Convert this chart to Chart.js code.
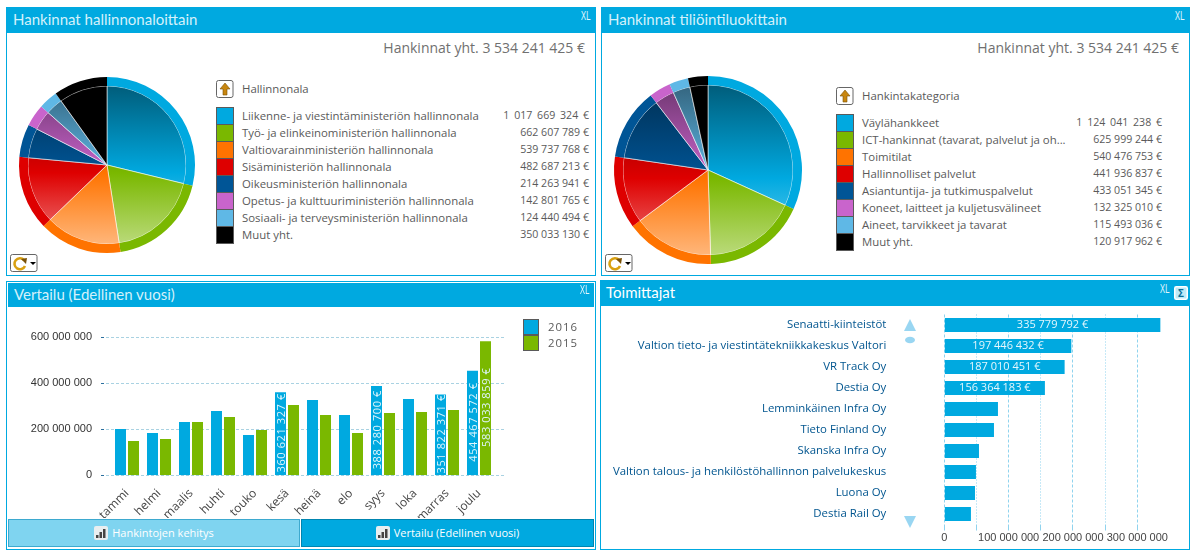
<!DOCTYPE html>
<html lang="fi">
<head>
<meta charset="utf-8">
<title>Hankinnat</title>
<script src="https://cdn.jsdelivr.net/npm/chart.js@4"></script>
<style>
  html, body { margin: 0; padding: 0; background: #fff; width: 1195px; height: 557px; overflow: hidden; }
  body { position: relative; font-family: "Open Sans", sans-serif; color: #555; }
  .panel { position: absolute; box-sizing: border-box; border: 1px solid #00a9e0; background: #fff; }
  .head { position: absolute; background: #00a9e0; color: #d4f1fb; font-family: Lato, sans-serif; font-size: 15px; line-height: 25px; padding-left: 6px; box-sizing: border-box; white-space: nowrap; }
  .xl { position: absolute; color: #e4f7fd; font-size: 12px; line-height: 12px; transform: scaleX(.72); transform-origin: left top; }
  .abs { position: absolute; white-space: nowrap; }
  .total { font-size: 14px; color: #707070; text-align: right; line-height: 18px; }
  .swatch { position: absolute; box-sizing: border-box; width: 18px; height: 18px; border: 1px solid #5a5a5a; }
  .leg { font-size: 11.4px; line-height: 17px; color: #5a5a5a; }
  .val { font-size: 10.6px; }
  .tab { position: absolute; box-sizing: border-box; top: 519px; height: 28px; border: 1px solid; color: #fff; font-size: 11px; line-height: 26px; text-align: center; }
  .tab svg { vertical-align: -3px; margin-right: 4px; }
  canvas { position: absolute; }
</style>
</head>
<body>
<script>
// ------------------------------------------------------------
// DATA
// ------------------------------------------------------------
const TOTAL_LABEL = "Hankinnat yht. 3 534 241 425 €";

const adminLabels = [
  "Liikenne- ja viestintäministeriön hallinnonala",
  "Työ- ja elinkeinoministeriön hallinnonala",
  "Valtiovarainministeriön hallinnonala",
  "Sisäministeriön hallinnonala",
  "Oikeusministeriön hallinnonala",
  "Opetus- ja kulttuuriministeriön hallinnonala",
  "Sosiaali- ja terveysministeriön hallinnonala",
  "Muut yht."
];
const adminValues = [1017669324, 662607789, 539737768, 482687213, 214263941, 142801765, 124440494, 350033130];

const accountLabels = [
  "Väylähankkeet",
  "ICT-hankinnat (tavarat, palvelut ja oh...",
  "Toimitilat",
  "Hallinnolliset palvelut",
  "Asiantuntija- ja tutkimuspalvelut",
  "Koneet, laitteet ja kuljetusvälineet",
  "Aineet, tarvikkeet ja tavarat",
  "Muut yht."
];
const accountValues = [1124041238, 625999244, 540476753, 441936837, 433051345, 132325010, 115493036, 120917962];

const months = ["tammi", "helmi", "maalis", "huhti", "touko", "kesä", "heinä", "elo", "syys", "loka", "marras", "joulu"];
const values2016 = [201000000, 184000000, 232000000, 280000000, 175000000, 360621327, 327000000, 262000000, 388280700, 332000000, 351822371, 454467572];
const values2015 = [149000000, 158000000, 232000000, 254000000, 197000000, 306000000, 262000000, 184000000, 271000000, 275000000, 284000000, 583033859];

const suppliers = [
  "Senaatti-kiinteistöt",
  "Valtion tieto- ja viestintätekniikkakeskus Valtori",
  "VR Track Oy",
  "Destia Oy",
  "Lemminkäinen Infra Oy",
  "Tieto Finland Oy",
  "Skanska Infra Oy",
  "Valtion talous- ja henkilöstöhallinnon palvelukeskus",
  "Luona Oy",
  "Destia Rail Oy"
];
const supplierValues = [335779792, 197446432, 187010451, 156364183, 83400000, 77200000, 53900000, 49200000, 47700000, 41400000];

const sliceColors = ["#00a9e0", "#7ab800", "#ff7300", "#de0000", "#005596", "#c964cc", "#5fb8e6", "#000000"];
const BLUE = "#00a9e0";
const GREEN = "#7ab800";

// ------------------------------------------------------------
// HELPERS
// ------------------------------------------------------------
Chart.defaults.font.family = '"Open Sans", sans-serif';
Chart.defaults.animation = false;

function spaced(v) {
  return String(v).replace(/\B(?=(\d{3})+(?!\d))/g, " ");
}

function mix(hex, target, amount) {
  const rgb = [1, 3, 5].map(i => parseInt(hex.substr(i, 2), 16));
  return "rgb(" + rgb.map(c => Math.round(c + (target - c) * amount)).join(",") + ")";
}

function addEl(cls, left, top, width, height, html) {
  const el = document.createElement("div");
  el.className = cls;
  el.style.left = left + "px";
  el.style.top = top + "px";
  if (width != null) el.style.width = width + "px";
  if (height != null) el.style.height = height + "px";
  if (html != null) el.innerHTML = html;
  document.body.appendChild(el);
  return el;
}

function addCanvas(left, top, width, height) {
  const c = document.createElement("canvas");
  c.style.left = left + "px";
  c.style.top = top + "px";
  c.style.width = width + "px";
  c.style.height = height + "px";
  c.width = width;
  c.height = height;
  document.body.appendChild(c);
  return c;
}

const UP_ICON =
  '<svg width="18" height="18" viewBox="0 0 18 18"><rect x=".5" y=".5" width="16.5" height="17" rx="2" fill="#fff" stroke="#666"/>' +
  '<path d="M9 3 L14 9 H11 V15 H7 V9 H4 Z" fill="#c8860f" stroke="#7a5208" stroke-width=".6"/></svg>';
const RELOAD_ICON =
  '<svg width="28" height="18" viewBox="0 0 28 18"><rect x=".5" y=".5" width="26.5" height="17" rx="2" fill="#fff" stroke="#666"/>' +
  '<path d="M14 6 A5.5 5.5 0 1 0 15 12" fill="none" stroke="#d9a011" stroke-width="2.6"/>' +
  '<path d="M11 5 L17 4 L16 10 Z" fill="#7a5208"/><path d="M20 8 H26 L23 11 Z" fill="#000"/></svg>';
const BARS_ICON =
  '<svg width="14" height="14" viewBox="0 0 14 14"><rect width="14" height="14" rx="2" fill="#e8eef0"/>' +
  '<rect x="2" y="9" width="2.5" height="3" fill="#444"/><rect x="5.5" y="6" width="2.5" height="6" fill="#444"/><rect x="9" y="3" width="2.5" height="9" fill="#444"/></svg>';

// ------------------------------------------------------------
// PLUGINS
// ------------------------------------------------------------
// Vaakaviivat piirretaan akselin yli molemmin puolin
const wideGrid = {
  id: "wideGrid",
  beforeDatasetsDraw(chart, args, opts) {
    const { ctx, scales: { y } } = chart;
    y.ticks.forEach(t => {
      const py = Math.round(y.getPixelForValue(t.value)) + 0.5;
      ctx.save();
      ctx.lineWidth = 1;
      ctx.strokeStyle = "#a9d2e2";
      ctx.setLineDash([3, 2]);
      ctx.beginPath();
      ctx.moveTo(opts.left, py);
      ctx.lineTo(opts.right, py);
      ctx.stroke();
      ctx.setLineDash([]);
      ctx.strokeStyle = "#2a6f9e";
      ctx.beginPath();
      ctx.moveTo(opts.left, py);
      ctx.lineTo(opts.left + 3, py);
      ctx.stroke();
      ctx.restore();
    });
  }
};

// Arvo palkin sisaan vain jos se mahtuu
const barValues = {
  id: "barValues",
  afterDatasetsDraw(chart, args, opts) {
    const ctx = chart.ctx;
    const vertical = !chart.options.indexAxis || chart.options.indexAxis === "x";
    chart.data.datasets.forEach((ds, d) => {
      chart.getDatasetMeta(d).data.forEach((bar, i) => {
        const text = spaced(ds.data[i]) + " €";
        ctx.save();
        ctx.font = opts.font;
        ctx.letterSpacing = opts.spacing || "0px";
        ctx.fillStyle = opts.color;
        ctx.textAlign = "center";
        ctx.textBaseline = "middle";
        const w = ctx.measureText(text).width;
        const room = vertical ? Math.abs(bar.base - bar.y) : Math.abs(bar.x - bar.base);
        if (w <= room) {
          if (vertical) {
            ctx.translate(bar.x, (bar.y + bar.base) / 2 - 1);
            ctx.rotate(-Math.PI / 2);
            ctx.fillText(text, 0, 1);
          } else {
            ctx.fillText(text, (bar.x + bar.base) / 2, bar.y);
          }
        }
        ctx.restore();
      });
    });
  }
};

// ------------------------------------------------------------
// PIE PANELS
// ------------------------------------------------------------
function piePanel(p) {
  addEl("panel", p.x, 7, p.w, 269);
  const head = addEl("head", p.x, 7, p.w, 26, p.title);
  head.style.paddingLeft = "7px";
  addEl("xl", p.x + p.w - 15, 10, null, null, "XL");
  addEl("abs total", p.x + p.w - 311, 39, 300, null, TOTAL_LABEL);

  const size = p.radius * 2 + 4;
  const canvas = addCanvas(p.cx - size / 2, p.cy - size / 2, size, size);
  new Chart(canvas, {
    type: "pie",
    data: {
      labels: p.labels,
      datasets: [
        { data: p.values, backgroundColor: sliceColors, borderWidth: 0, weight: 9 },
        {
          data: p.values,
          weight: p.radius - 9,
          borderWidth: 1,
          borderColor: "rgba(255,255,255,.55)",
          backgroundColor(c) {
            const base = sliceColors[c.dataIndex];
            const r = p.radius - 9;
            const g = c.chart.ctx.createLinearGradient(0, size / 2 - r, 0, size / 2 + r);
            g.addColorStop(0, mix(base, 0, 0.45));
            g.addColorStop(0.55, base);
            g.addColorStop(1, mix(base, 255, 0.48));
            return g;
          }
        }
      ]
    },
    options: {
      responsive: false,
      radius: p.radius,
      plugins: { legend: { display: false }, tooltip: { enabled: false } }
    }
  });

  addEl("abs", p.lx, p.ly - 27, 18, 18, UP_ICON);
  addEl("abs leg", p.lx + 26, p.ly - 27, null, null, p.heading);
  p.labels.forEach((label, i) => {
    const top = p.ly + i * 17;
    const sw = addEl("swatch", p.lx, top, null, null);
    sw.style.background = sliceColors[i];
    addEl("abs leg", p.lx + 26, top, null, null, label);
    const val = addEl("abs leg val", p.vr - 120, top, 120, null, spaced(p.values[i]) + " €");
    val.style.textAlign = "right";
    if (p.values[i] >= 1e9) val.style.wordSpacing = "2px";
  });
  addEl("abs", p.x + 4, 254, 28, 18, RELOAD_ICON);
}

piePanel({
  x: 6, w: 590, title: "Hankinnat hallinnonaloittain", heading: "Hallinnonala",
  labels: adminLabels, values: adminValues,
  cx: 106.5, cy: 164.5, radius: 88, lx: 216, ly: 107, vr: 589
});
piePanel({
  x: 601, w: 589, title: "Hankinnat tiliöintiluokittain", heading: "Hankintakategoria",
  labels: accountLabels, values: accountValues,
  cx: 707.5, cy: 170, radius: 94, lx: 836, ly: 114, vr: 1162
});

// ------------------------------------------------------------
// VERTAILU (BAR)
// ------------------------------------------------------------
addEl("panel", 6, 281, 590, 269);
addEl("head", 8, 283, 586, 24, "Vertailu (Edellinen vuosi)").style.lineHeight = "22px";
addEl("xl", 580, 284, null, null, "XL");

new Chart(addCanvas(8, 308, 586, 210), {
  type: "bar",
  data: {
    labels: months,
    datasets: [
      { label: "2016", data: values2016, backgroundColor: BLUE, categoryPercentage: 0.8125, barPercentage: 0.846 },
      { label: "2015", data: values2015, backgroundColor: GREEN, categoryPercentage: 0.8125, barPercentage: 0.846 }
    ]
  },
  options: {
    responsive: false,
    layout: { padding: { top: 29.3, right: 99 } },
    scales: {
      x: {
        grid: { display: false },
        border: { display: false },
        afterFit(s) { s.height = 42.7; },
        ticks: { color: "#444", font: { size: 12 }, minRotation: 45, maxRotation: 45, padding: 3, autoSkip: false }
      },
      y: {
        min: 0, max: 600000000,
        grid: { display: false },
        border: { display: false },
        afterFit(s) { s.width = 103; },
        ticks: {
          stepSize: 200000000, color: "#333", font: { family: '"Liberation Sans"', size: 11 }, padding: 11,
          callback: v => spaced(v)
        }
      }
    },
    plugins: {
      legend: { display: false },
      tooltip: { enabled: false },
      wideGrid: { left: 93, right: 498 },
      barValues: { font: "11px 'Open Sans'", color: "#dff6fd", spacing: "0.6px" }
    }
  },
  plugins: [wideGrid, barValues]
});

[["2016", BLUE], ["2015", GREEN]].forEach(([name, color], i) => {
  const sw = addEl("swatch", 523, 319 + i * 15.5, 16, 16);
  sw.style.background = color;
  const t = addEl("abs leg", 548, 318 + i * 15.5, null, null, name);
  t.style.letterSpacing = "1px";
});

const tab1 = addEl("tab", 8, 519, 292, 28, BARS_ICON + "Hankintojen kehitys");
tab1.style.background = "#7fd4f0";
tab1.style.borderColor = "#3da9cf";
const tab2 = addEl("tab", 301, 519, 293, 28, BARS_ICON + "Vertailu (Edellinen vuosi)");
tab2.style.background = "#00a9e0";
tab2.style.borderColor = "#0085b0";

// ------------------------------------------------------------
// TOIMITTAJAT (HORIZONTAL BAR)
// ------------------------------------------------------------
addEl("panel", 600, 280, 590, 270);
addEl("head", 600, 280, 590, 26, "Toimittajat").style.color = "#fff";
addEl("xl", 1160, 283, null, null, "XL");
addEl("abs", 1174, 283, 14, 14,
  '<svg width="14" height="14" viewBox="0 0 14 14"><rect x=".75" y=".75" width="12.5" height="12.5" rx="1.5" fill="#bfeaf8" stroke="#fff" stroke-width="1.5"/>' +
  '<text x="7" y="11" font-size="10" font-weight="700" text-anchor="middle" fill="#0a6f97">Σ</text></svg>');

new Chart(addCanvas(601, 307, 588, 240), {
  type: "bar",
  data: {
    labels: suppliers,
    datasets: [{ data: supplierValues, backgroundColor: BLUE, categoryPercentage: 1, barPercentage: 0.667 }]
  },
  options: {
    indexAxis: "y",
    responsive: false,
    layout: { padding: { top: 7.5, right: 19.5 } },
    scales: {
      x: {
        min: 0, max: 350000000,
        position: "bottom",
        grid: { color: "#8fd3ee", tickLength: 6 },
        // 100 milj. katkoviiva, valissa pisteviiva
        border: { display: false, dash: c => (c.tick && c.tick.value % 100000000 === 0 ? [3, 2] : [1, 2]) },
        afterFit(s) { s.height = 22.5; },
        afterBuildTicks(s) { s.ticks = s.ticks.filter(t => t.value <= 300000000); },
        ticks: {
          stepSize: 50000000, autoSkip: false, maxRotation: 0, minRotation: 0,
          color: "#444", font: { family: '"Liberation Sans"', size: 11 }, padding: 1,
          callback: v => (v % 100000000 === 0 ? spaced(v) : "")
        }
      },
      y: {
        grid: { display: false },
        border: { display: false },
        // tick padding ei saa kutistaa piirtoalueen korkeutta
        afterFit(s) { s.width = 343.3; s.paddingTop = 0; s.paddingBottom = 0; },
        ticks: { color: "#00558f", font: { size: 11.4 }, padding: 50, autoSkip: false }
      }
    },
    plugins: {
      legend: { display: false },
      tooltip: { enabled: false },
      barValues: { font: "11px 'Open Sans'", color: "#e4f7fd" }
    }
  },
  plugins: [barValues]
});

addEl("abs", 903, 319, 14, 28,
  '<svg width="14" height="28" viewBox="0 0 14 28"><path d="M7 0 L13 12 H1 Z" fill="#99d6f2"/><ellipse cx="7" cy="21" rx="5" ry="3.2" fill="#99d6f2"/></svg>');
addEl("abs", 903, 512, 14, 13,
  '<svg width="14" height="13" viewBox="0 0 14 13"><path d="M1 0 H13 L7 12 Z" fill="#99d6f2"/></svg>');
</script>
</body>
</html>
